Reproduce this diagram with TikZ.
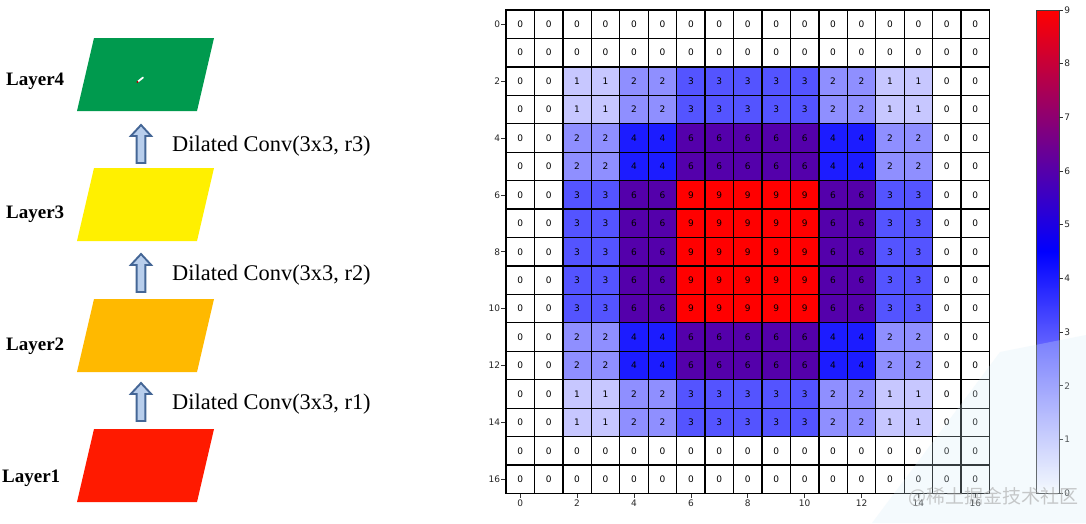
\documentclass[tikz,border=0pt]{standalone}
\usepackage{fontspec}
\setmainfont{Liberation Serif}
\newfontfamily\dejavu{DejaVu Sans}
\newfontfamily\cjk{Noto Sans CJK SC}
\usetikzlibrary{calc}
\definecolor{lgreen}{RGB}{0,154,78}
\definecolor{lyellow}{RGB}{255,240,0}
\definecolor{lorange}{RGB}{255,185,0}
\definecolor{lred}{RGB}{255,26,0}
\definecolor{arrowfill}{RGB}{184,206,236}
\definecolor{arrowdraw}{RGB}{68,102,150}
\definecolor{swoosh}{RGB}{214,236,248}
\begin{document}
\begin{tikzpicture}[x=1pt,y=-1pt,
  cell/.style={draw=black, line width=1.3pt, minimum size=28.44pt, inner sep=0pt, font=\dejavu\fontsize{9}{10}\selectfont},
  tick/.style={font=\dejavu\fontsize{9}{10}\selectfont, text=black!85, inner sep=1pt},
  tickline/.style={line width=0.6pt, black!80},
  layerlbl/.style={font=\bfseries\fontsize{19}{22}\selectfont, anchor=base west, inner sep=0pt},
  convlbl/.style={font=\fontsize{22.4}{26}\selectfont, anchor=base west, inner sep=0pt},
  blk/.style={fill=arrowfill, draw=arrowdraw, line width=1.9pt, line join=miter},
  uparr/.pic={\draw[blk] (0,-19) -- (10.2,-8) -- (4.4,-8) -- (4.4,19) -- (-4.4,19) -- (-4.4,-8) -- (-10.2,-8) -- cycle;}
]
\useasboundingbox (0,0) rectangle (1086,523);
\fill[white] (0,0) rectangle (1086,523);

% ---------- left: layers ----------
\foreach \n/\y/\col in {4/38/lgreen,3/168/lyellow,2/299/lorange,1/429/lred}{
  \fill[\col] (94,\y) -- (214,\y) -- (197,\y+73) -- (77,\y+73) -- cycle;
  \coordinate (L\n) at (145.5,\y+36.5);
}
% small cursor mark on Layer4
\draw[white, line width=1.8pt, line cap=round] (138,81.5) -- (143,77.5);
\fill[red!70!black] (137.5,82) circle (1.1);

\node[layerlbl] (t4) at (6,85) {Layer4};
\node[layerlbl] (t3) at (6,218) {Layer3};
\node[layerlbl] (t2) at (6,350) {Layer2};
\node[layerlbl] (t1) at (2,482) {Layer1};

\coordinate (a3) at (141,144);
\coordinate (a2) at (141,273);
\coordinate (a1) at (141,402);
\pic at (a3) {uparr};
\pic at (a2) {uparr};
\pic at (a1) {uparr};
\node[convlbl] (c3) at (172,151) {Dilated Conv(3x3, r3)};
\node[convlbl] (c2) at (172,280) {Dilated Conv(3x3, r2)};
\node[convlbl] (c1) at (172,409) {Dilated Conv(3x3, r1)};

% ---------- right: heat map ----------
\def\wl{{0,0,1,1,2,2,3,3,3,3,3,2,2,1,1,0,0}}
\foreach \r in {0,...,16}{
  \foreach \c in {0,...,16}{
    \pgfmathtruncatemacro\v{\wl[\r]*\wl[\c]}
    \ifnum\v<5
      \pgfmathtruncatemacro\p{round(\v/4.5*100)}
      \colorlet{cc}{blue!\p!white}
    \else
      \pgfmathtruncatemacro\q{round((\v-4.5)/4.5*100)}
      \colorlet{cc}{red!\q!blue}
    \fi
    \node[cell, fill=cc] (c\r-\c) at ({506+28.44*(\c+0.5)}, {10+28.44*(\r+0.5)}) {\v};
  }
}
\foreach \k in {0,2,...,16}{
  \draw[tickline] (c\k-0.west) -- ++(-4,0) node[tick, anchor=east] {\k};
  \draw[tickline] (c16-\k.south) -- ++(0,4) node[tick, anchor=north] {\k};
}

% ---------- colorbar ----------
\shade[bottom color=white, top color=blue] (1036,251.5) rectangle (1059,493);
\shade[bottom color=blue, top color=red] (1036,10) rectangle (1059,251.5);
\node[draw=black!75, line width=0.6pt, minimum width=23pt, minimum height=483pt, inner sep=0pt] (cbar) at (1047.5,251.5) {};
\foreach \k in {0,...,9}{
  \draw[tickline] ({1059},{493-53.667*\k}) -- ++(4,0) node[tick, anchor=west] {\k};
}

% ---------- watermark ----------
\fill[swoosh, opacity=0.25] (872,523) -- (1000,352) -- (1086,335) -- (1086,523) -- cycle;
\node[font=\cjk\fontsize{19}{22}\selectfont, text=black!35, opacity=0.6, anchor=base west, inner sep=0pt] (wm) at (908,503) {@稀土掘金技术社区};
\end{tikzpicture}
\end{document}
